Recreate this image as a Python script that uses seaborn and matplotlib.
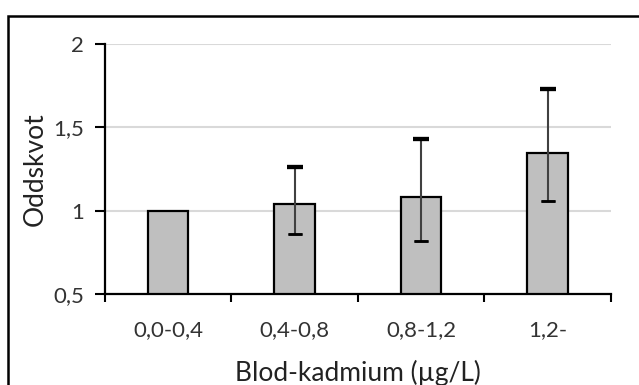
import matplotlib
matplotlib.use("Agg")
import matplotlib.pyplot as plt
from matplotlib.patches import Rectangle
from matplotlib.ticker import FixedLocator
import seaborn as sns
import pandas as pd
import numpy as np

categories = ["0,0-0,4", "0,4-0,8", "0,8-1,2", "1,2-"]
odds = [1.0, 1.04, 1.08, 1.345]
ci_low = [np.nan, 0.86, 0.82, 1.06]
ci_high = [np.nan, 1.26, 1.43, 1.73]
yticks = [0.5, 1.0, 1.5, 2.0]
ytick_labels = ["0,5", "1", "1,5", "2"]

sns.set_style("white")
plt.rcParams["font.family"] = ["Lato", "DejaVu Sans"]

df = pd.DataFrame({"cat": categories, "odds": odds})

fig = plt.figure(figsize=(6.39, 3.85), dpi=100)
ax = fig.add_axes([0.164, 0.2364, 0.792, 0.6493])

sns.barplot(data=df, x="cat", y="odds", color="#BFBFBF", edgecolor="black",
            linewidth=1.6, width=0.32, saturation=1, ax=ax, zorder=3)

x = np.arange(len(categories))
lo = np.array(ci_low)
hi = np.array(ci_high)
v = np.array(odds)
mask = ~np.isnan(lo)
ax.errorbar(x[mask], v[mask], yerr=[v[mask] - lo[mask], hi[mask] - v[mask]],
            fmt="none", ecolor="#404040", elinewidth=1.5, capsize=0, zorder=4)
# caps
ax.errorbar(x[mask], hi[mask], yerr=0, fmt="none", ecolor="black",
            capsize=6, capthick=3.0, elinewidth=0, zorder=5)
ax.errorbar(x[mask], lo[mask], yerr=0, fmt="none", ecolor="black",
            capsize=5, capthick=1.8, elinewidth=0, zorder=5)

ax.set_xlim(-0.5, 3.5)
ax.set_ylim(0.5, 2.0)
ax.set_yticks(yticks)
ax.set_yticklabels(ytick_labels)
ax.yaxis.grid(True, color="#D9D9D9", linewidth=1.5, zorder=0)
ax.set_axisbelow(True)
ax.xaxis.set_minor_locator(FixedLocator([-0.5, 0.5, 1.5, 2.5, 3.5]))
ax.tick_params(axis="x", which="major", length=0, pad=19, labelsize=16, colors="#333333")
ax.tick_params(axis="x", which="minor", length=6, width=1.5, direction="out", color="black", bottom=True)
ax.tick_params(axis="y", which="major", length=7, width=1.5, direction="out", color="black",
               left=True, labelsize=16, labelcolor="#333333", pad=8)
for s in ["top", "right"]:
    ax.spines[s].set_visible(False)
for s in ["left", "bottom"]:
    ax.spines[s].set_color("black")
    ax.spines[s].set_linewidth(1.6)
ax.spines["bottom"].set_zorder(6)

ax.set_xlabel("Blod-kadmium (µg/L)", fontsize=19, color="#222222", labelpad=14)
ax.set_ylabel("Oddskvot", fontsize=19, color="#222222", labelpad=4)

fig.patches.append(Rectangle((8 / 639, -0.1), 1.1, 1.1 - 16 / 385,
                             transform=fig.transFigure, fill=False,
                             edgecolor="black", linewidth=1.8, clip_on=False))

fig.savefig("out.png", dpi=100)
